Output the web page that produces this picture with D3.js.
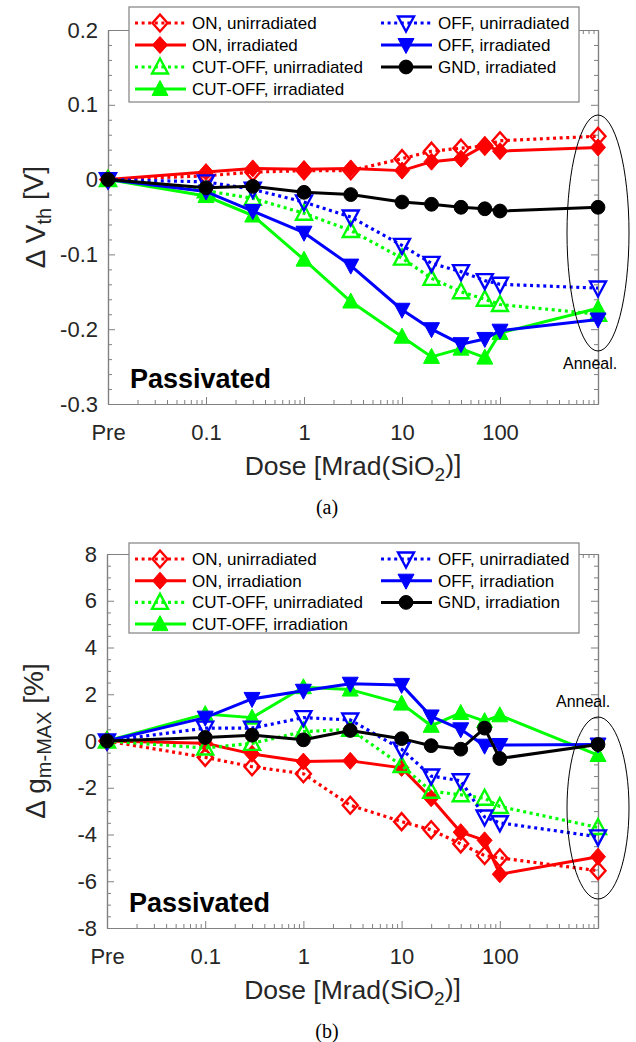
<!DOCTYPE html>
<html>
<head>
<meta charset="utf-8">
<script src="https://cdn.jsdelivr.net/npm/d3@7"></script>
<style>
  body { margin: 0; background: #fff; }
  svg { display: block; }
  text { font-family: "Liberation Sans", Arial, sans-serif; }
</style>
</head>
<body>
<svg id="fig" width="636" height="1042"></svg>
<script>
// Dose points: "Pre" is placed one decade below 0.1, annealing one decade above 100
const doses = [0.01, 0.1, 0.3, 1, 3, 10, 20, 40, 70, 100, 1000];
const doseTicks = [0.01, 0.1, 1, 10, 100];
const doseTickLabels = ["Pre", "0.1", "1", "10", "100"];

// (a) threshold-voltage shift, V
const vthTicks = [-0.3, -0.2, -0.1, 0, 0.1, 0.2];
const vthTickLabels = ["-0.3", "-0.2", "-0.1", "0", "0.1", "0.2"];
const vthOnUnirr   = [0, 0.005, 0.010, 0.012, 0.012, 0.028, 0.038, 0.042, 0.045, 0.052, 0.058];
const vthOnIrr     = [0, 0.010, 0.015, 0.014, 0.015, 0.012, 0.024, 0.028, 0.046, 0.038, 0.043];
const vthCutUnirr  = [0, -0.015, -0.025, -0.045, -0.068, -0.105, -0.132, -0.150, -0.160, -0.167, -0.180];
const vthCutIrr    = [0, -0.022, -0.048, -0.107, -0.163, -0.210, -0.237, -0.226, -0.238, -0.205, -0.172];
const vthOffUnirr  = [0, -0.003, -0.013, -0.030, -0.050, -0.088, -0.112, -0.123, -0.135, -0.140, -0.145];
const vthOffIrr    = [0, -0.016, -0.042, -0.071, -0.115, -0.174, -0.200, -0.220, -0.213, -0.202, -0.187];
const vthGndIrr    = [0, -0.011, -0.009, -0.017, -0.020, -0.030, -0.033, -0.037, -0.039, -0.042, -0.037];

// (b) peak transconductance change, %
const gmTicks = [-8, -6, -4, -2, 0, 2, 4, 6, 8];
const gmTickLabels = ["-8", "-6", "-4", "-2", "0", "2", "4", "6", "8"];
const gmOnUnirr    = [0, -0.70, -1.10, -1.40, -2.75, -3.45, -3.80, -4.40, -4.90, -5.00, -5.55];
const gmOnIrr      = [0, -0.10, -0.55, -0.88, -0.85, -1.15, -2.45, -3.90, -4.25, -5.70, -4.95];
const gmCutUnirr   = [0, -0.30, -0.10, 0.40, 0.50, -1.05, -2.15, -2.30, -2.45, -2.80, -3.70];
const gmCutIrr     = [0, 1.15, 1.00, 2.30, 2.20, 1.60, 0.65, 1.20, 0.85, 1.10, -0.60];
const gmOffUnirr   = [0, 0.55, 0.55, 1.00, 0.90, -0.35, -1.50, -1.70, -3.25, -3.50, -4.10];
const gmOffIrr     = [0, 1.00, 1.80, 2.15, 2.45, 2.40, 1.05, 0.50, -0.20, -0.17, -0.15];
const gmGndIrr     = [0, 0.15, 0.25, 0.05, 0.45, 0.10, -0.20, -0.35, 0.55, -0.75, -0.15];

const seriesNamesA = ["ON, unirradiated", "ON, irradiated", "CUT-OFF, unirradiated", "CUT-OFF, irradiated",
                      "OFF, unirradiated", "OFF, irradiated", "GND, irradiated"];
const seriesNamesB = ["ON, unirradiated", "ON, irradiation", "CUT-OFF, unirradiated", "CUT-OFF, irradiation",
                      "OFF, unirradiated", "OFF, irradiation", "GND, irradiation"];

// line / marker styles per series (same order as the names)
const styles = [
  { color: "#ff0000", dotted: true,  marker: "diamond", filled: false },
  { color: "#ff0000", dotted: false, marker: "diamond", filled: true },
  { color: "#00ff00", dotted: true,  marker: "up",      filled: false },
  { color: "#00ff00", dotted: false, marker: "up",      filled: true },
  { color: "#0000ff", dotted: true,  marker: "down",    filled: false },
  { color: "#0000ff", dotted: false, marker: "down",    filled: true },
  { color: "#000000", dotted: false, marker: "circle",  filled: true }
];

const svg = d3.select("#fig");
const FRAME = "#808080";
const TICKTEXT = "#262626";

function markerPath(kind) {
  switch (kind) {
    case "diamond": return "M0,-8.5L7.5,0L0,8.5L-7.5,0Z";
    case "up":      return "M0,-8.5L8,6.5L-8,6.5Z";
    case "down":    return "M0,8.5L8,-6.5L-8,-6.5Z";
    default:        return d3.symbol(d3.symbolCircle, 150)();
  }
}

function drawMarker(g, st, x, y) {
  g.append("path")
    .attr("d", markerPath(st.marker))
    .attr("transform", `translate(${x},${y})`)
    .attr("fill", st.filled ? st.color : "none")
    .attr("stroke", st.color)
    .attr("stroke-width", st.filled ? 1 : 2.4)
    .attr("stroke-linejoin", "miter");
}

function styleLine(sel, st) {
  sel.attr("fill", "none")
    .attr("stroke", st.color)
    .attr("stroke-width", st.dotted ? 3.2 : 3)
    .attr("stroke-dasharray", st.dotted ? "3,3.6" : null)
    .attr("stroke-linejoin", "round");
}

function drawChart(cfg) {
  const { left, right, top, bottom } = cfg;
  const x = d3.scaleLog().domain([0.01, 1000]).range([left, right]);
  const y = d3.scaleLinear().domain(cfg.yDomain).range([bottom, top]);
  const g = svg.append("g");

  // minor ticks
  const xMinor = x.ticks().filter(v => !doseTicks.includes(v) && v !== 1000);
  const yMinor = d3.range(cfg.yDomain[0], cfg.yDomain[1] + 1e-9, cfg.yMinorStep)
    .filter(v => !cfg.yTicks.some(t => Math.abs(t - v) < 1e-9));

  function axisLayer(axisFn, scale, transform, values, size, labels, pad) {
    const ax = axisFn(scale).tickValues(values).tickSizeInner(-size).tickSizeOuter(0)
      .tickPadding(pad || 0)
      .tickFormat(labels ? ((d, i) => labels[i]) : "");
    const a = g.append("g").attr("transform", transform).call(ax);
    a.selectAll("path.domain").attr("stroke", FRAME).attr("stroke-width", 1.2);
    a.selectAll(".tick line").attr("stroke", FRAME).attr("stroke-width", 1);
    a.selectAll(".tick text").attr("fill", TICKTEXT).style("font-size", "22px")
      .style("font-family", '"Liberation Sans", Arial, sans-serif');
    return a;
  }

  // bottom / top
  axisLayer(d3.axisBottom, x, `translate(0,${bottom})`, xMinor, 4);
  axisLayer(d3.axisBottom, x, `translate(0,${bottom})`, doseTicks, 7, doseTickLabels, 20);
  axisLayer(d3.axisTop, x, `translate(0,${top})`, xMinor, 4);
  axisLayer(d3.axisTop, x, `translate(0,${top})`, doseTicks, 7);
  // left / right
  axisLayer(d3.axisLeft, y, `translate(${left},0)`, yMinor, 4);
  axisLayer(d3.axisLeft, y, `translate(${left},0)`, cfg.yTicks, 7, cfg.yTickLabels, 10);
  axisLayer(d3.axisRight, y, `translate(${right},0)`, yMinor, 4);
  axisLayer(d3.axisRight, y, `translate(${right},0)`, cfg.yTicks, 7);

  // data series: line first, then its markers
  const line = d3.line().x((d, i) => x(doses[i])).y(d => y(d));
  cfg.series.forEach((vals, k) => {
    const st = styles[k];
    const sg = g.append("g");
    styleLine(sg.append("path").attr("d", line(vals)), st);
    vals.forEach((v, i) => drawMarker(sg, st, x(doses[i]), y(v)));
  });

  // annealing ellipse and label
  g.append("ellipse")
    .attr("cx", x(1000)).attr("cy", cfg.ellipse.cy)
    .attr("rx", 31).attr("ry", cfg.ellipse.ry)
    .attr("fill", "none").attr("stroke", "#000").attr("stroke-width", 1);
  g.append("text").attr("x", cfg.anneal.x).attr("y", cfg.anneal.y)
    .style("font-size", "16px").attr("fill", "#000").text("Anneal.");

  // "Passivated" tag
  g.append("text").attr("x", left + 22).attr("y", bottom - 16)
    .style("font-size", "27px").style("font-weight", "bold").attr("fill", "#000").text("Passivated");

  // legend
  const lg = g.append("g");
  lg.append("rect").attr("x", 129).attr("y", cfg.legend.top)
    .attr("width", 450).attr("height", cfg.legend.height)
    .attr("fill", "#fff").attr("stroke", FRAME).attr("stroke-width", 1.2);
  const cols = [{ x0: 135, x1: 186, xm: 160, xt: 192 }, { x0: 381, x1: 432, xm: 406, xt: 438 }];
  cfg.names.forEach((name, k) => {
    const col = k < 4 ? cols[0] : cols[1];
    const row = k < 4 ? k : k - 4;
    const yy = cfg.legend.top + 16 + row * cfg.legend.step;
    const st = styles[k];
    styleLine(lg.append("line").attr("x1", col.x0).attr("x2", col.x1).attr("y1", yy).attr("y2", yy), st);
    drawMarker(lg, st, col.xm, yy);
    lg.append("text").attr("x", col.xt).attr("y", yy).attr("dy", "0.35em")
      .style("font-size", "17px").attr("fill", "#000").text(name);
  });

  // axis titles
  const xt = g.append("text").attr("x", (left + right) / 2).attr("y", bottom + 71)
    .attr("text-anchor", "middle").style("font-size", "26.5px").attr("fill", TICKTEXT);
  xt.append("tspan").text("Dose [Mrad(SiO");
  xt.append("tspan").attr("dy", "0.3em").style("font-size", "19px").text("2");
  xt.append("tspan").attr("dy", "-0.3em").text(")]");

  const yt = g.append("text")
    .attr("transform", `translate(${cfg.yTitleX},${(top + bottom) / 2}) rotate(-90)`)
    .attr("text-anchor", "middle").style("font-size", "28px").attr("fill", TICKTEXT);
  yt.append("tspan").text(cfg.yTitle[0]);
  yt.append("tspan").attr("dy", "0.3em").style("font-size", "20px").text(cfg.yTitle[1]);
  yt.append("tspan").attr("dy", "-0.3em").text(cfg.yTitle[2]);

  // panel caption
  svg.append("text").attr("x", 327).attr("y", bottom + 110).attr("text-anchor", "middle")
    .style("font-family", '"Liberation Serif", "Times New Roman", serif').style("font-size", "20px")
    .attr("fill", "#000").text(cfg.caption);
}

drawChart({
  left: 108, right: 598, top: 30, bottom: 404,
  yDomain: [-0.3, 0.2], yTicks: vthTicks, yTickLabels: vthTickLabels, yMinorStep: 0.02,
  series: [vthOnUnirr, vthOnIrr, vthCutUnirr, vthCutIrr, vthOffUnirr, vthOffIrr, vthGndIrr],
  names: seriesNamesA,
  legend: { top: 7, height: 95, step: 22 },
  ellipse: { cy: 233, ry: 118 },
  anneal: { x: 563, y: 369 },
  yTitle: ["\u0394 V", "th", " [V]"], yTitleX: 45,
  caption: "(a)"
});

drawChart({
  left: 107, right: 598, top: 554, bottom: 928,
  yDomain: [-8, 8], yTicks: gmTicks, yTickLabels: gmTickLabels, yMinorStep: 0.5,
  series: [gmOnUnirr, gmOnIrr, gmCutUnirr, gmCutIrr, gmOffUnirr, gmOffIrr, gmGndIrr],
  names: seriesNamesB,
  legend: { top: 543, height: 90, step: 21.7 },
  ellipse: { cy: 808, ry: 91 },
  anneal: { x: 556, y: 707 },
  yTitle: ["\u0394 g", "m-MAX", " [%]"], yTitleX: 45,
  caption: "(b)"
});
</script>
</body>
</html>
